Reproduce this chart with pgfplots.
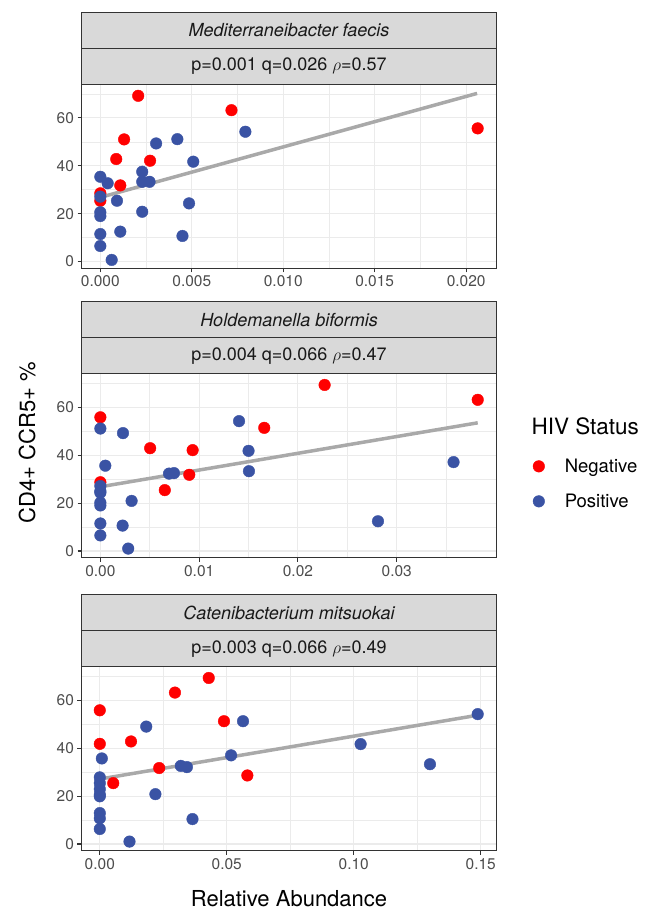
\documentclass[border=0pt]{standalone}
\usepackage{fontspec}
\setmainfont{TeX Gyre Heros}
\usepackage{pgfplots}
\pgfplotsset{compat=1.18}
\definecolor{negred}{HTML}{FF0000}
\definecolor{posblue}{HTML}{3A53A4}
\definecolor{grid92}{HTML}{EBEBEB}
\definecolor{grey20}{HTML}{333333}
\definecolor{grey30}{HTML}{4D4D4D}
\definecolor{stripbg}{HTML}{D9D9D9}
\definecolor{fitgrey}{HTML}{A9A9A9}
\pgfplotsset{panel/.style={
  scale only axis, width=415pt, height=184pt,
  axis line style={grey20, line width=1.1pt},
  grid=both, major grid style={grid92, line width=1.1pt}, minor grid style={grid92, line width=0.55pt},
  minor tick length=0pt,
  tick align=outside, major tick length=4pt, tick style={grey20, line width=1.1pt},
  xtick pos=left, ytick pos=left,
  ymin=-2.8, ymax=74, ytick={0,20,40,60}, minor ytick={10,30,50,70},
  ticklabel style={font=\fontsize{15.5}{18}\selectfont, text=grey30},
  /pgf/number format/assume math mode=true,
  scaled x ticks=false,
  clip=false,
},
neg/.style={only marks, mark=*, mark size=5.8pt, color=negred},
pos/.style={only marks, mark=*, mark size=5.8pt, color=posblue},
fit/.style={fitgrey, line width=3.5pt, no marks},
}
\usetikzlibrary{calc}
\newcommand{\strips}[3]{%
  \draw[fill=stripbg, draw=grey20, line width=1.1pt] (#1.north west) rectangle ([yshift=36pt]#1.north east);
  \draw[fill=stripbg, draw=grey20, line width=1.1pt] ([yshift=36pt]#1.north west) rectangle ([yshift=72pt]#1.north east);
  \node[font=\fontsize{18}{21}\selectfont\itshape, text=black!90] at ([yshift=54pt]$(#1.north west)!0.5!(#1.north east)$) {#2};
  \node[font=\fontsize{18}{21}\selectfont, text=black!90] at ([yshift=18pt]$(#1.north west)!0.5!(#1.north east)$) {#3};
}
\begin{document}
\begin{tikzpicture}
\useasboundingbox (0pt,0pt) rectangle (658pt,911pt);
% Panel 1
\begin{axis}[panel, name=ax1, at={(81.5pt,642.7pt)}, anchor=south west,
  xmin=-0.00103, xmax=0.02166,
  xtick={0,0.005,0.01,0.015,0.02}, xticklabels={0.000,0.005,0.010,0.015,0.020},
  minor xtick={0.0025,0.0075,0.0125,0.0175}]
\addplot[neg] coordinates {(0.00207,69.2) (0.00717,63.2) (0.0013,51.0) (0.00087,42.8) (0.00272,42.1) (0.00109,31.8) (0,28.5) (0,25.4) (0.02063,55.6)};
\addplot[pos] coordinates {(0.00793,54.2) (0.00305,49.3) (0.00421,51.1) (0.00508,41.7) (0,35.4) (0.0004,32.7) (0.00229,37.5) (0.00229,33.3) (0.00269,33.3) (0,27.1) (0.00091,25.4) (0.00229,20.8) (0.00485,24.3) (0,20.6) (0,19.0) (0,11.5) (0.00109,12.5) (0,6.5) (0.00449,10.7) (0.00062,0.7)};
\addplot[fit] coordinates {(0,26.8) (0.0206,70.2)};
\end{axis}
% Panel 2
\begin{axis}[panel, name=ax2, at={(81.5pt,353.3pt)}, anchor=south west,
  xmin=-0.00191, xmax=0.0401,
  xtick={0,0.01,0.02,0.03}, xticklabels={0.00,0.01,0.02,0.03},
  minor xtick={0.005,0.015,0.025,0.035},
  legend style={draw=none, fill=none, at={(1.075,0.56)}, anchor=north west,
    font=\fontsize{18.5}{22}\selectfont, row sep=16pt, nodes={inner sep=2pt},
    /tikz/every even column/.style={column sep=0pt}},
  legend cell align=left,
  legend image code/.code={\path[draw=none,fill=none] (0pt,0pt) -- (32pt,0pt); \draw[#1] plot coordinates {(8pt,0pt)};}]
\addplot[neg] coordinates {(0,55.8) (0.00504,42.9) (0.00934,42.1) (0.009,31.8) (0.00652,25.4) (0,28.7) (0.0227,69.3) (0.0382,63.1) (0.01659,51.4)};
\addlegendentry{Negative}
\addplot[pos] coordinates {(0,51.1) (0.00229,49.2) (0.01404,54.2) (0.015,41.8) (0.01504,33.3) (0.0005,35.6) (0.00695,32.3) (0.00745,32.5) (0,27.1) (0,25.0) (0.00316,20.9) (0,20.2) (0,19.0) (0,11.5) (0.00225,10.6) (0,6.5) (0.00282,1.0) (0.03575,37.1) (0.0281,12.4) (0,24.3)};
\addlegendentry{Positive}
\addplot[fit, forget plot] coordinates {(0,26.8) (0.0382,53.5)};
\end{axis}
% Panel 3
\begin{axis}[panel, name=ax3, at={(81.5pt,60.3pt)}, anchor=south west,
  xmin=-0.0072, xmax=0.1562,
  xtick={0,0.05,0.1,0.15}, xticklabels={0.00,0.05,0.10,0.15},
  minor xtick={0.025,0.075,0.125}]
\addplot[neg] coordinates {(0,55.8) (0,41.8) (0.0123,42.8) (0.0296,63.2) (0.0429,69.3) (0.0489,51.25) (0.0581,28.6) (0.0234,31.7) (0.0053,25.4)};
\addplot[pos] coordinates {(0.0183,49.0) (0.0564,51.25) (0.0517,37.0) (0.0319,32.6) (0.0343,32.1) (0.0008,35.7) (0,27.8) (0,25.4) (0,22.9) (0,20.6) (0,19.9) (0.0219,20.8) (0,12.9) (0,10.7) (0,6.25) (0.0365,10.4) (0.0117,1.0) (0.1027,41.7) (0.130,33.3) (0.1488,54.2)};
\addplot[fit] coordinates {(0,27.1) (0.1488,53.75)};
\end{axis}
\strips{ax1}{Mediterraneibacter faecis}{p=0.001 q=0.026 $\rho$=0.57}
\strips{ax2}{Holdemanella biformis}{p=0.004 q=0.066 $\rho$=0.47}
\strips{ax3}{Catenibacterium mitsuokai}{p=0.003 q=0.066 $\rho$=0.49}
\node[anchor=base, font=\fontsize{22}{26}\selectfont] at (289pt,4.3pt) {Relative Abundance};
\node[anchor=base, rotate=90, font=\fontsize{22}{26}\selectfont] at (35pt,468.5pt) {CD4+ CCR5+ \%};
\node[anchor=base west, font=\fontsize{22.5}{26}\selectfont] at (528pt,476pt) {HIV Status};
\end{tikzpicture}
\end{document}
